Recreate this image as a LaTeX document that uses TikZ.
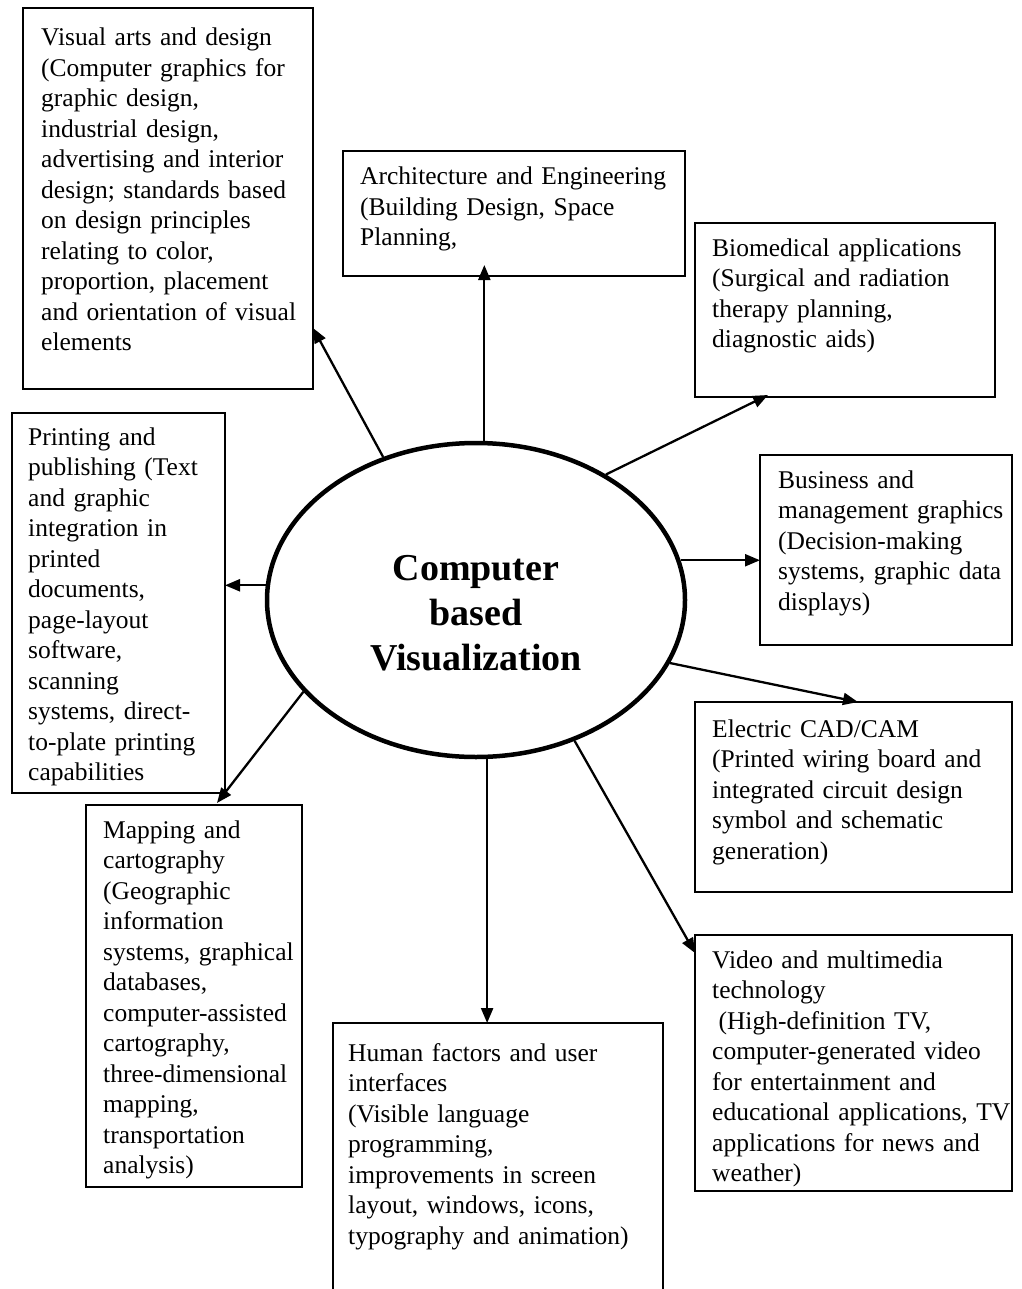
\documentclass[tikz,border=0pt]{standalone}
\usepackage{fontspec}
\setmainfont{Liberation Serif}
\usetikzlibrary{shapes.geometric,arrows.meta,calc}
\begin{document}
\begin{tikzpicture}[x=1pt,y=-1pt,
  box/.style={draw, line width=1.7pt, rectangle, anchor=north west, inner sep=0pt, outer sep=0pt},
  txt/.style={anchor=base west, inner sep=0pt, text width=400pt, align=left, font=\fontsize{25.5}{30.5}\selectfont},
  arr/.style={line width=2.3pt, -{Triangle[length=15pt,width=12pt]}},
]
\useasboundingbox (0,0) rectangle (1021,1289);
\clip (0,0) rectangle (1021,1289);

% boxes
\node[box, minimum width=290pt, minimum height=381pt] (va) at (23,8) {};
\node[box, minimum width=342pt, minimum height=125pt] (ae) at (343,151) {};
\node[box, minimum width=300pt, minimum height=174pt] (bm) at (695,223) {};
\node[box, minimum width=213pt, minimum height=380pt] (pp) at (12,413) {};
\node[box, minimum width=252pt, minimum height=190pt] (bu) at (760,455) {};
\node[box, minimum width=317pt, minimum height=190pt] (ec) at (695,702) {};
\node[box, minimum width=216pt, minimum height=382pt] (mc) at (86,805) {};
\node[box, minimum width=317pt, minimum height=256pt] (vm) at (695,935) {};
\node[box, minimum width=330pt, minimum height=300pt] (hf) at (333,1023) {};

% texts
\node[txt] (vat) at (41,46) {Visual arts and design\\(Computer graphics for\\graphic design,\\industrial design,\\advertising and interior\\design; standards based\\on design principles\\relating to color,\\proportion, placement\\and orientation of visual\\elements};
\node[txt] (aet) at (360,185) {Architecture and Engineering\\(Building Design, Space\\Planning,};
\node[txt] (bmt) at (712,256) {Biomedical applications\\(Surgical and radiation\\therapy planning,\\diagnostic aids)};
\node[txt] (ppt) at (28,445) {Printing and\\publishing (Text\\and graphic\\integration in\\printed\\documents,\\page-layout\\software,\\scanning\\systems, direct-\\to-plate printing\\capabilities};
\node[txt] (but) at (778,488) {Business and\\management graphics\\(Decision-making\\systems, graphic data\\displays)};
\node[txt] (ect) at (712,737) {Electric CAD/CAM\\(Printed wiring board and\\integrated circuit design\\symbol and schematic\\generation)};
\node[txt] (mct) at (103,838) {Mapping and\\cartography\\(Geographic\\information\\systems, graphical\\databases,\\computer-assisted\\cartography,\\three-dimensional\\mapping,\\transportation\\analysis)};
\node[txt] (vmt) at (712,968) {Video and multimedia\\technology\\\hspace*{0.25em}(High-definition TV,\\computer-generated video\\for entertainment and\\educational applications, TV\\applications for news and\\weather)};
\node[txt] (hft) at (348,1061) {Human factors and user\\interfaces\\(Visible language\\programming,\\improvements in screen\\layout, windows, icons,\\typography and animation)};

% central ellipse
\node[draw, ellipse, line width=4.5pt, minimum width=418pt, minimum height=314pt, inner sep=0pt] (cv) at (476,600) {};
\node[anchor=base, inner sep=0pt, text width=400pt, align=center, font=\bfseries\fontsize{38}{45}\selectfont] (cvt) at (476,580) {Computer\\based\\Visualization};

% connectors
\draw[arr] (cv.123) -- ($(va.south east)+(0,-61)$);
\draw[arr] (cv.87) -- ($(cv.87 |- ae.south)+(0,-11)$);
\draw[arr] (cv.44) -- ($(bm.south west)+(73,-2)$);
\draw[arr] (cv.176.4) -- (cv.176.4 -| pp.east);
\draw[arr] (cv.11.7) -- (cv.11.7 -| bu.west);
\draw[arr] (cv.-18.3) -- ($(ec.north west)+(163,0)$);
\draw[arr] (cv.-55.1) -- ($(vm.north west)+(0,18)$);
\draw[arr] (cv.-86.4) -- (cv.-86.4 |- hf.north);
\draw[arr] (cv.208.3) -- ($(mc.north west)+(131,-2)$);
\end{tikzpicture}
\end{document}
